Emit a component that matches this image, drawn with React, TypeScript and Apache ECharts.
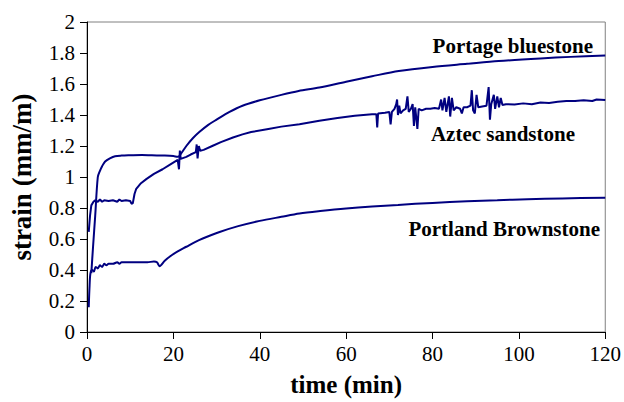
import React, { useEffect, useRef } from "react";
import * as echarts from "echarts";

const xTicks = [0, 20, 40, 60, 80, 100, 120];
const yTicks = [0, 0.2, 0.4, 0.6, 0.8, 1, 1.2, 1.4, 1.6, 1.8, 2];

const portageTime = [1.0, 1.4, 1.9, 2.5, 3.0, 3.5, 4.2, 5.3, 6.5, 8, 10, 12.7, 15, 18, 20, 21, 21.5, 23, 24.5, 26, 28, 30, 33, 36, 40, 45, 49, 53.8, 60, 66, 72.2, 80, 88, 95.3, 105, 112, 120];
const portageStrain = [0.38, 0.55, 0.75, 1.0, 1.04, 1.07, 1.1, 1.12, 1.134, 1.138, 1.14, 1.142, 1.14, 1.138, 1.135, 1.13, 1.14, 1.2, 1.25, 1.29, 1.335, 1.37, 1.42, 1.46, 1.495, 1.53, 1.555, 1.577, 1.615, 1.65, 1.684, 1.71, 1.73, 1.748, 1.765, 1.775, 1.784];

const aztecTime = [0.4, 0.7, 1.0, 1.5, 1.9, 2.5, 3, 3.5, 4, 5, 6, 7, 7.5, 8, 9, 10, 10.3, 10.6, 11.0, 11.4, 12.5, 13.8, 15.5, 17.5, 19.5, 21.0, 21.3, 21.5, 21.7, 23, 24, 25.2, 25.4, 25.6, 25.9, 26.2, 27, 29, 31, 33.8, 36, 38, 42, 45, 49.2, 53.8, 58, 62, 66,
  67.0, 67.2, 67.4, 69, 70.0, 70.3, 70.6, 71.2, 71.6, 71.8, 72.0, 72.3, 72.6, 73.2, 73.8, 74.2, 74.5, 75.0, 75.4, 75.7, 76.0, 76.5, 76.8, 77.5, 78.5, 79.5, 80.5, 81.5, 82.0, 82.3, 82.8, 83.2, 83.8, 84.1, 84.5, 84.9, 85.5, 86.4, 86.8, 87.2, 88.0, 88.8, 89.1, 89.4, 89.8, 90.2, 90.6, 91.5, 92.5, 93.0, 93.3, 93.6, 94.2, 94.5, 95.0, 95.4, 95.8, 96.2,
  97, 99, 101, 103, 105, 107, 109, 111, 113, 115, 117, 118, 120];
const aztecStrain = [0.646, 0.75, 0.817, 0.84, 0.85, 0.84, 0.855, 0.84, 0.85, 0.845, 0.85, 0.84, 0.855, 0.845, 0.85, 0.845, 0.828, 0.83, 0.89, 0.924, 0.96, 0.988, 1.02, 1.05, 1.085, 1.11, 1.05, 1.17, 1.117, 1.13, 1.145, 1.16, 1.21, 1.12, 1.2, 1.17, 1.175, 1.2, 1.225, 1.255, 1.275, 1.29, 1.31, 1.325, 1.341, 1.363, 1.38, 1.395, 1.405,
  1.405, 1.32, 1.41, 1.415, 1.42, 1.34, 1.42, 1.44, 1.47, 1.5, 1.4, 1.46, 1.41, 1.43, 1.44, 1.52, 1.42, 1.44, 1.47, 1.33, 1.45, 1.31, 1.44, 1.43, 1.44, 1.44, 1.445, 1.44, 1.5, 1.43, 1.51, 1.42, 1.52, 1.39, 1.51, 1.43, 1.45, 1.44, 1.41, 1.45, 1.45, 1.46, 1.56, 1.43, 1.41, 1.53, 1.45, 1.455, 1.46, 1.58, 1.37, 1.47, 1.53, 1.44, 1.52, 1.45, 1.51, 1.465,
  1.47, 1.468, 1.475, 1.47, 1.48, 1.478, 1.485, 1.49, 1.49, 1.495, 1.49, 1.5, 1.497];

const portlandTime = [0.4, 0.6, 0.8, 1.2, 1.6, 2.0, 2.5, 3.0, 3.5, 4.0, 4.5, 5.0, 6.0, 7.0, 7.5, 8.0, 9.0, 10, 12, 14, 15.5, 16.2, 16.8, 18, 19.2, 21, 23, 25, 26.8, 30.7, 35, 40, 45, 49.2, 54, 60, 66, 72, 80, 88, 95, 102, 110, 120];
const portlandStrain = [0.16, 0.3, 0.38, 0.4, 0.39, 0.42, 0.41, 0.43, 0.42, 0.44, 0.43, 0.44, 0.44, 0.45, 0.44, 0.45, 0.45, 0.45, 0.45, 0.45, 0.455, 0.45, 0.425, 0.46, 0.487, 0.52, 0.55, 0.58, 0.603, 0.645, 0.683, 0.717, 0.743, 0.764, 0.78, 0.797, 0.81, 0.82, 0.833, 0.843, 0.85, 0.857, 0.862, 0.866];

const seriesNames = ["Portage bluestone", "Aztec sandstone", "Portland Brownstone"];

const zip = (t: number[], s: number[]) => t.map((v, i) => [v, s[i]]);

const SERIF = "'Liberation Serif', 'Times New Roman', serif";
const LINE = "#000080";

export default function App() {
  const ref = useRef<HTMLDivElement>(null);
  useEffect(() => {
    if (!ref.current) return;
    const chart = echarts.init(ref.current, null, { renderer: "svg" });
    const mkSeries = (name: string, data: number[][], smooth: number | boolean) => ({
      name,
      type: "line",
      data,
      smooth,
      showSymbol: false,
      symbol: "none",
      lineStyle: { color: LINE, width: 2 },
      itemStyle: { color: LINE },
    });
    chart.setOption({
      animation: false,
      backgroundColor: "#ffffff",
      grid: { left: 87, right: 17, top: 22, bottom: 68, show: true, borderColor: "#808080", borderWidth: 1 },
      xAxis: {
        type: "value",
        min: xTicks[0],
        max: xTicks[xTicks.length - 1],
        interval: xTicks[1] - xTicks[0],
        name: "time (min)",
        nameLocation: "middle",
        nameGap: 40,
        nameTextStyle: { fontFamily: SERIF, fontWeight: "bold", fontSize: 25, color: "#000" },
        axisLine: { lineStyle: { color: "#000", width: 1 } },
        axisTick: { show: true, length: 7, lineStyle: { color: "#000" } },
        axisLabel: { fontFamily: SERIF, fontSize: 21, color: "#000", margin: 11 },
        splitLine: { show: false },
      },
      yAxis: {
        type: "value",
        min: yTicks[0],
        max: yTicks[yTicks.length - 1],
        interval: 0.2,
        name: "strain (mm/m)",
        nameLocation: "middle",
        nameGap: 52,
        nameTextStyle: { fontFamily: SERIF, fontWeight: "bold", fontSize: 27, color: "#000" },
        axisLine: { show: true, lineStyle: { color: "#000", width: 1 } },
        axisTick: { show: true, length: 7, lineStyle: { color: "#000" } },
        axisLabel: {
          fontFamily: SERIF, fontSize: 21, color: "#000", margin: 12,
          formatter: (v: number) => String(Math.round(v * 10) / 10),
        },
        splitLine: { show: false },
      },
      graphic: [
        { type: "text", x: 593, y: 46, style: { text: seriesNames[0], font: `bold 21px ${SERIF}`, fill: "#000", textAlign: "right", textVerticalAlign: "middle", align: "right", verticalAlign: "middle" } },
        { type: "text", x: 575, y: 134, style: { text: seriesNames[1], font: `bold 21px ${SERIF}`, fill: "#000", textAlign: "right", textVerticalAlign: "middle", align: "right", verticalAlign: "middle" } },
        { type: "text", x: 600, y: 229, style: { text: seriesNames[2], font: `bold 21px ${SERIF}`, fill: "#000", textAlign: "right", textVerticalAlign: "middle", align: "right", verticalAlign: "middle" } },
      ],
      series: [
        mkSeries(seriesNames[0], zip(portageTime, portageStrain), 0.3),
        mkSeries(seriesNames[1], zip(aztecTime, aztecStrain), false),
        mkSeries(seriesNames[2], zip(portlandTime, portlandStrain), 0.3),
      ],
    });
    return () => chart.dispose();
  }, []);
  return <div ref={ref} style={{ position: "fixed", left: 0, top: 0, width: 624, height: 402 }} />;
}
